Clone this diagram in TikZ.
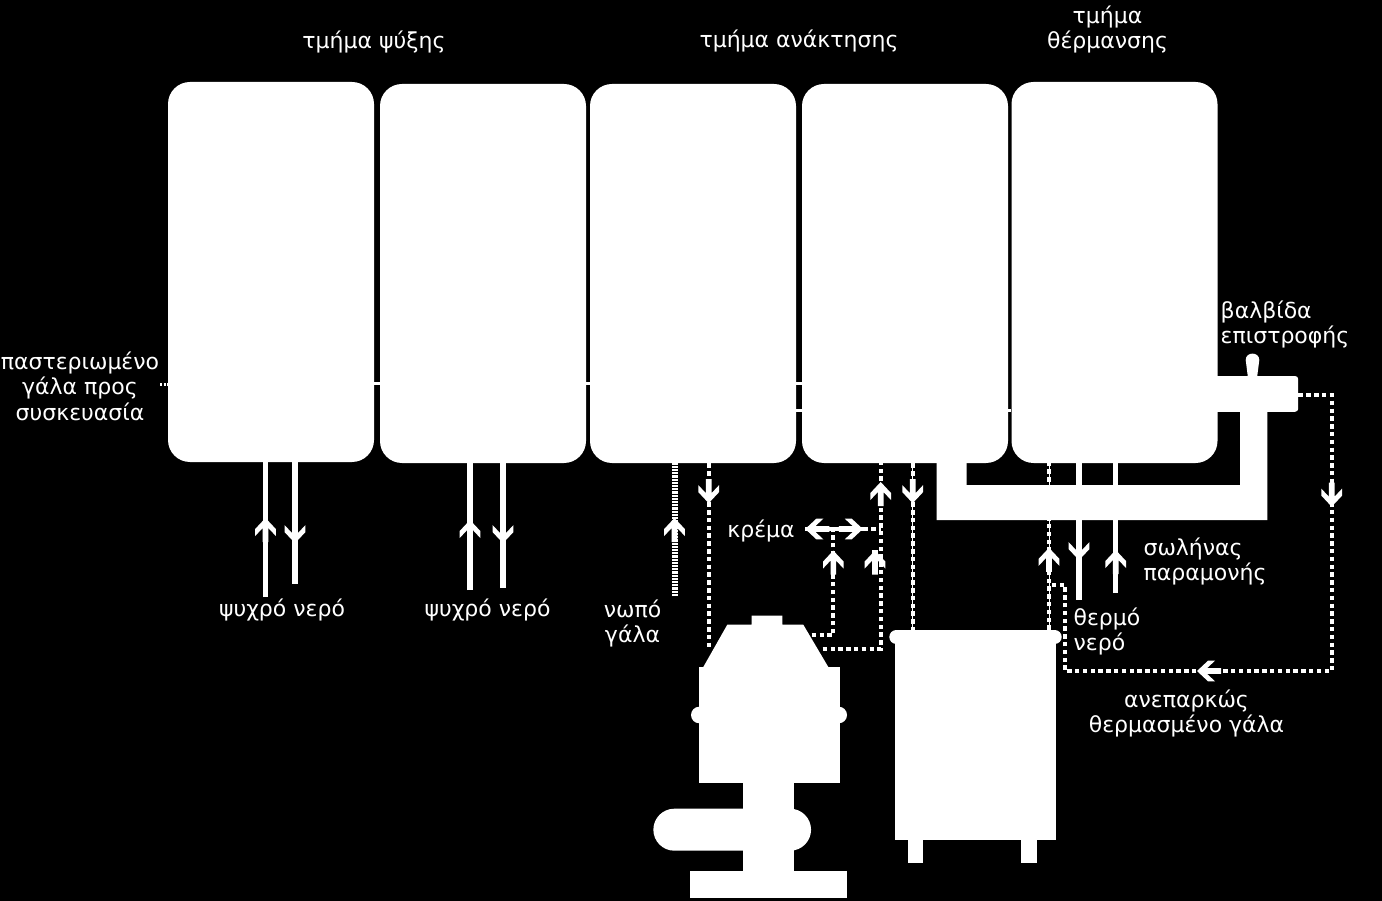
\documentclass[tikz,border=0pt]{standalone}
\usepackage{fontspec}
\setmainfont{DejaVu Sans}
\usetikzlibrary{arrows.meta,decorations.markings}
\definecolor{Backdrop}{HTML}{000000}
\definecolor{Plant}{HTML}{FFFFFF}
\tikzset{
  plate pack/.style={fill=Plant, rounded corners=22pt, inner sep=0pt, minimum width=206pt},
  plant part/.style={fill=Plant, inner sep=0pt},
  plant pill/.style={fill=Plant, inner sep=0pt, rounded corners=#1},
  caption/.style={text=Plant, align=center, inner sep=0pt, font=\fontsize{22}{25.6}\selectfont},
  flow at/.style={postaction={decorate, decoration={markings, mark=at position #1 with {
    \fill[Plant, solid] (0pt,0pt) -- (-11pt,10.3pt) -- (-18pt,10.3pt) -- (-10pt,2.8pt) -- (-24pt,2.8pt)
      -- (-24pt,-2.8pt) -- (-10pt,-2.8pt) -- (-18pt,-10.3pt) -- (-11pt,-10.3pt) -- cycle;}}}},
  water pipe/.style={draw=Plant, line width=5.5pt},
  raw pipe/.style={draw=Plant, line width=6pt, dash pattern=on 2.2pt off 1pt},
  milk pipe/.style={draw=Plant, line width=4pt, dash pattern=on 4.5pt off 3.3pt},
  fine pipe/.style={milk pipe, preaction={draw=Plant, solid, line width=1pt}},
  gap link/.style={draw=Plant, line width=3pt},
}
\begin{document}
\begin{tikzpicture}[x=1pt, y=-1pt]
  \fill[Backdrop] (0,0) rectangle (1382,901);
  \useasboundingbox (0,0) rectangle (1382,901);

  % Plate packs, left to right.
  \node[plate pack, minimum height=380pt] (cool a) at (271,272) {};
  \node[plate pack, minimum height=379pt] (cool b) at (483,273.5) {};
  \node[plate pack, minimum height=379pt] (regen a) at (693,273.5) {};
  \node[plate pack, minimum height=379pt] (regen b) at (905,273.5) {};
  \node[plate pack, minimum height=381pt] (heat) at (1114.5,272.5) {};

  % Holding tube and return valve.
  \fill[Plant] (936.7,455) -- (966.7,455) -- (966.7,485) -- (1240,485) -- (1240,405)
    -- (1267.3,405) -- (1267.3,520) -- (936.7,520) -- cycle;
  \node[plant pill=3pt, minimum width=93pt, minimum height=35.7pt] (valve) at (1251.7,393.9) {};
  \fill[Plant] (1248,378) -- (1245.7,360) .. controls (1245.7,351.5) and (1259.3,351.5) .. (1259.3,360)
    -- (1257,378) -- cycle;

  % Separator, built up from the base.
  \node[plant part, minimum width=156.7pt, minimum height=27.6pt] (sep base) at (768.3,884.5) {};
  \node[plant part, minimum width=50.4pt, minimum height=90pt] (sep stem) at (768.5,827) {};
  \node[plant pill=21pt, minimum width=157.7pt, minimum height=42pt] (sep motor) at (732.2,829.7) {};
  \node[plant part, minimum width=141pt, minimum height=116pt] (sep body) at (769.5,724.7) {};
  \node[plant pill=8.3pt, minimum width=156pt, minimum height=16.6pt] (sep ring) at (769,715) {};
  \fill[Plant] (703.3,667) -- (727.3,624.7) -- (751.7,624.7) -- (751.7,615.7) -- (782.3,615.7)
    -- (782.3,624.7) -- (803.3,624.7) -- (828.3,667) -- cycle;
  \coordinate (sep feed) at (708.7,650);
  \coordinate (sep skim) at (811.7,635);
  \coordinate (sep out) at (822.7,649);

  % Balance tank.
  \node[plant part, minimum width=161.3pt, minimum height=198pt] (tank) at (975.4,741) {};
  \node[plant pill=7pt, minimum width=172.4pt, minimum height=14pt] (tank top) at (975.5,637) {};
  \node[plant part, minimum width=15.3pt, minimum height=23pt] (tank leg a) at (915.7,851) {};
  \node[plant part, minimum width=15.3pt, minimum height=23pt] (tank leg b) at (1029,851) {};

  % Free ends of the service lines.
  \coordinate (cold a in) at (265.5,597);
  \coordinate (cold a out) at (295,584);
  \coordinate (cold b in) at (470,590);
  \coordinate (cold b out) at (503,588);
  \coordinate (raw in) at (674.5,596);
  \coordinate (hot out) at (1079,600);
  \coordinate (hot in) at (1115.7,593);
  \coordinate (cream tee) at (833.3,529);
  \coordinate (cream end) at (805,529);
  \coordinate (cream right) at (863.3,529);
  \coordinate (cream stub) at (875,573);
  \coordinate (return join) at (1049,585);
  \coordinate (outlet) at (160,384);

  % Water lines are solid, milk lines are broken.
  \draw[water pipe, flow at=79pt] (cold a in) -- ([xshift=-5.5pt]cool a.south);
  \draw[water pipe, flow at=81pt] ([xshift=24pt]cool a.south) -- (cold a out);
  \draw[water pipe, flow at=70pt] (cold b in) -- ([xshift=-13pt]cool b.south);
  \draw[water pipe, flow at=80pt] ([xshift=20pt]cool b.south) -- (cold b out);
  \draw[water pipe, flow at=97pt] ([xshift=-35.5pt]heat.south) -- (hot out);
  \draw[water pipe, flow at=43pt] (hot in) -- ([xshift=1.2pt]heat.south);
  \draw[raw pipe, flow at=78pt] (raw in) -- ([xshift=-18.5pt]regen a.south);
  \draw[milk pipe, flow at=40pt] ([xshift=15.7pt]regen a.south) -- (sep feed);
  \draw[milk pipe, flow at=225pt] (sep out) -| ([xshift=-24.3pt]regen b.south);
  \draw[fine pipe, flow at=40pt] ([xshift=7.7pt]regen b.south) -- ([xshift=7.7pt]regen b.south |- tank top.north);
  \draw[fine pipe, flow at=82pt] ([xshift=73.5pt]tank top.north) -- ([xshift=-65.5pt]heat.south);
  \draw[milk pipe, flow at=106pt] (sep skim) -| (cream tee);
  \draw[water pipe, line width=4.5pt, flow at=28pt] (cream tee) -- (cream end);
  \draw[water pipe, line width=4.5pt, flow at=29.5pt] (cream tee) -- (cream right);
  \draw[milk pipe] (cream right) -- ([xshift=-24.3pt]regen b.south |- cream right);
  \draw[water pipe, flow at=22.5pt] (cream stub) -- ++(0,-23);
  \draw[milk pipe, flow at=145pt, flow at=444pt] (valve.east |- 0,395) -- (1331.7,395) -- (1331.7,671) -- (1065,671)
    -- (1065,585) -- (return join);

  % Short links through the gaps between the packs.
  \draw[gap link, dash pattern=on 2pt off 1.5pt] (outlet) -- (outlet -| cool a.west);
  \draw[gap link] (cool a.east |- 0,383.5) -- (cool b.west |- 0,383.5);
  \draw[gap link] (cool b.east |- 0,383.5) -- (regen a.west |- 0,383.5);
  \draw[gap link] (regen a.east |- 0,383.5) -- (regen b.west |- 0,383.5);
  \draw[gap link] (regen a.east |- 0,410) -- (regen b.west |- 0,410);
  \draw[gap link] (regen b.east |- 0,410) -- (heat.west |- 0,410);

  % Captions.
  \node[caption] (cap cool) at (374,42) {τμήμα ψύξης};
  \node[caption] (cap regen) at (799,41.5) {τμήμα ανάκτησης};
  \node[caption] (cap heat) at (1107.5,29.5) {τμήμα\\θέρμανσης};
  \node[caption, align=left] (cap valve) at (1285,324.5) {βαλβίδα\\επιστροφής};
  \node[caption] (cap past) at (80,386) {παστεριωμένο\\γάλα προς\\συσκευασία};
  \node[caption] (cap cold a) at (282,609.5) {ψυχρό νερό};
  \node[caption] (cap cold b) at (487.5,609.5) {ψυχρό νερό};
  \node[caption] (cap raw) at (632.5,623.5) {νωπό\\γάλα};
  \node[caption] (cap cream) at (761,531) {κρέμα};
  \node[caption, align=left] (cap tube) at (1205,561.5) {σωλήνας\\παραμονής};
  \node[caption, align=left] (cap hot) at (1107,631.5) {θερμό\\νερό};
  \node[caption] (cap under) at (1186.5,713.5) {ανεπαρκώς\\θερμασμένο γάλα};
\end{tikzpicture}
\end{document}
